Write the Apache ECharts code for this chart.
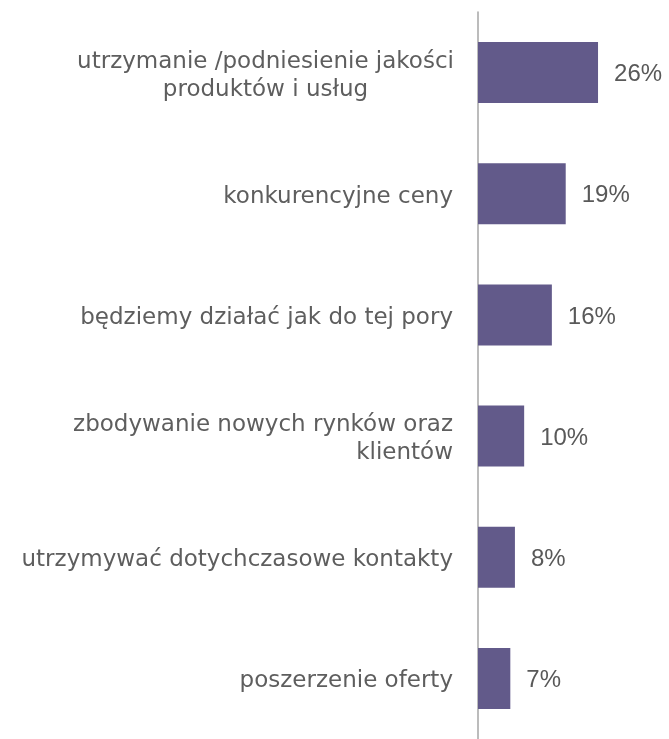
<!DOCTYPE html>
<html>
<head>
<meta charset="utf-8">
<style>
  html, body { margin: 0; padding: 0; background: #ffffff; }
  #chart { width: 669px; height: 739px; }
</style>
<script src="https://cdn.jsdelivr.net/npm/echarts@6/dist/echarts.min.js"></script>
</head>
<body>
<div id="chart"></div>
<script>
// Survey answers (top to bottom) and their shares in percent
const categories = [
  'utrzymanie /podniesienie jakości\nproduktów i usług',
  'konkurencyjne ceny',
  'będziemy działać jak do tej pory',
  'zbodywanie nowych rynków oraz\nklientów',
  'utrzymywać dotychczasowe kontakty',
  'poszerzenie oferty'
];
const values = [26, 19, 16, 10, 8, 7];

const labelFont = '"DejaVu Sans", "Open Sans", sans-serif';
const labelSize = 23;
const labelColor = '#5e5e5e';

const chart = echarts.init(document.getElementById('chart'));

chart.setOption({
  animation: false,
  backgroundColor: '#ffffff',
  grid: { left: 478, right: 52.5, top: 12, bottom: 0, containLabel: false },
  xAxis: {
    type: 'value',
    min: 0,
    max: 30,
    show: false
  },
  yAxis: {
    type: 'category',
    data: categories,
    inverse: true,
    axisLine: { show: true, lineStyle: { color: '#a6a6a6', width: 1.5 } },
    axisTick: { show: false },
    splitLine: { show: false },
    axisLabel: {
      margin: 25,
      color: labelColor,
      fontFamily: labelFont,
      fontSize: labelSize,
      lineHeight: 28,
      padding: [6, 0, 0, 0],
      align: 'right',
      formatter: function (v, i) {
        // the first answer has its two lines centred on each other
        if (i === 0) {
          return v.split('\n').map(function (l) { return '{c|' + l + '}'; }).join('\n');
        }
        return v;
      },
      rich: {
        c: {
          width: 375,
          align: 'center',
          color: labelColor,
          fontFamily: labelFont,
          fontSize: labelSize,
          lineHeight: 28
        }
      }
    }
  },
  series: [{
    type: 'bar',
    data: values,
    barWidth: 61,
    itemStyle: { color: '#625a8a' },
    label: {
      show: true,
      position: 'right',
      distance: 16,
      offset: [0, 2],
      color: '#595959',
      fontFamily: '"Liberation Sans", Arial, sans-serif',
      fontSize: 24,
      formatter: '{c}%'
    }
  }]
});
</script>
</body>
</html>
